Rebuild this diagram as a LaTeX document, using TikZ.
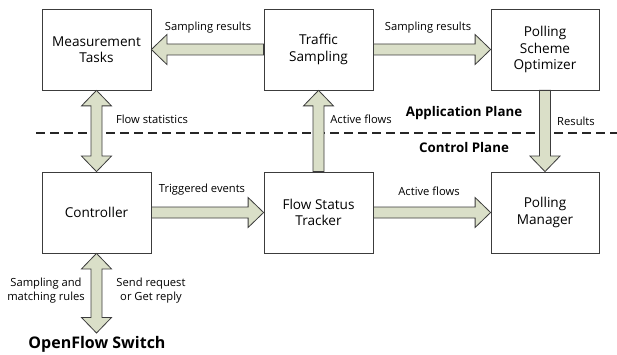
\documentclass[tikz,border=0pt]{standalone}
\usepackage{fontspec}
\setmainfont{Open Sans}
\usetikzlibrary{calc}
\definecolor{arrowfill}{RGB}{218,223,200}
\definecolor{edgegray}{RGB}{60,60,60}
\tikzset{
  box/.style={draw=edgegray, line width=0.8pt, minimum width=109pt, minimum height=81pt, inner sep=0pt, align=center, font=\fontsize{13.6}{16.5}\selectfont},
  lbl/.style={inner sep=0pt, font=\fontsize{11.2}{14}\selectfont, align=center},
  plane/.style={inner sep=0pt, font=\bfseries\fontsize{13.3}{15}\selectfont},
  fat/.style={draw=edgegray, line width=0.8pt, fill=arrowfill, line join=miter},
}
% single fat arrow from #1 to #2
\newcommand{\fatone}[2]{%
  \coordinate (hh) at ($(#2)!15.5pt!(#1)$);
  \draw[fat] ($(#1)!5.5pt!90:(#2)$) -- ($(hh)!5.5pt!90:(#2)$) -- ($(hh)!15pt!90:(#2)$) -- (#2)
    -- ($(hh)!15pt!-90:(#2)$) -- ($(hh)!5.5pt!-90:(#2)$) -- ($(#1)!5.5pt!-90:(#2)$) -- cycle;}
% double fat arrow between #1 and #2
\newcommand{\fattwo}[2]{%
  \coordinate (ha) at ($(#1)!15.5pt!(#2)$);
  \coordinate (hb) at ($(#2)!15.5pt!(#1)$);
  \draw[fat] (#1) -- ($(ha)!15pt!-90:(#2)$) -- ($(ha)!5.5pt!-90:(#2)$) -- ($(hb)!5.5pt!90:(#1)$)
    -- ($(hb)!15pt!90:(#1)$) -- (#2) -- ($(hb)!15pt!-90:(#1)$) -- ($(hb)!5.5pt!-90:(#1)$)
    -- ($(ha)!5.5pt!90:(#2)$) -- ($(ha)!15pt!90:(#2)$) -- cycle;}
\begin{document}
\begin{tikzpicture}[x=1pt,y=-1pt]
\useasboundingbox (0,0) rectangle (617,355);
% plane separator
\coordinate (d1) at (36,133);
\coordinate (d2) at (617,133);
\draw[line width=1.6pt, dash pattern=on 9pt off 5pt, black!85] (d1) -- (d2);
% boxes
\node[box] (MT) at (96.5,49.5) {Measurement\\Tasks};
\node[box] (TS) at (318.5,49.5) {Traffic\\Sampling};
\node[box, minimum width=108pt] (PSO) at (545,49.5) {Polling\\Scheme\\Optimizer};
\node[box] (CT) at (96.5,212.5) {Controller};
\node[box] (FST) at (318.5,212.5) {Flow Status\\Tracker};
\node[box, minimum width=108pt] (PM) at (545,212.5) {Polling\\Manager};
\coordinate (OFS) at (96.5,333);
% arrows
\fatone{TS.west}{MT.east}
\fatone{TS.east}{PSO.west}
\fattwo{MT.south}{CT.north}
\fatone{FST.north}{TS.south}
\fatone{PSO.south}{PM.north}
\fatone{CT.east}{FST.west}
\fatone{FST.east}{PM.west}
\fattwo{CT.south}{OFS}
% labels
\node[lbl] (l1) at (208,28) {Sampling results};
\node[lbl] (l2) at (428,28) {Sampling results};
\node[lbl] (l3) at (152,119) {Flow statistics};
\node[lbl] (l4) at (361,119) {Active flows};
\node[plane] (ap) at (464,113) {Application Plane};
\node[lbl] (l5) at (576,121) {Results};
\node[plane] (cp) at (464,148) {Control Plane};
\node[lbl] (l6) at (202,190) {Triggered events};
\node[lbl] (l7) at (429,191) {Active flows};
\node[lbl] (l8) at (46,291) {Sampling and\\matching rules};
\node[lbl] (l9) at (151,291) {Send request\\or Get reply};
\node[inner sep=0pt, font=\bfseries\fontsize{16}{18}\selectfont] (of) at (97,344) {OpenFlow Switch};
\end{tikzpicture}
\end{document}
